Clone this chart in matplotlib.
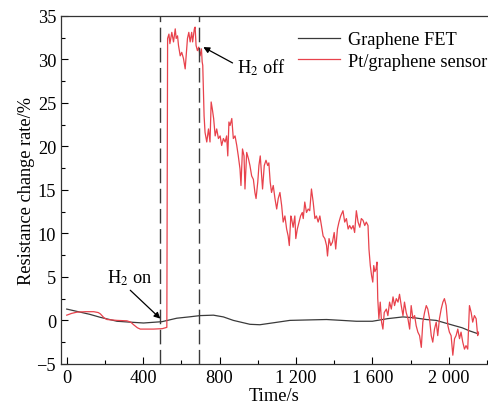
import matplotlib
matplotlib.use("Agg")
import matplotlib.pyplot as plt
from matplotlib.ticker import MultipleLocator, FixedLocator

plt.rcParams['font.family'] = ['Liberation Serif', 'DejaVu Serif']
plt.rcParams['mathtext.fontset'] = 'stix'

# Graphene FET (smooth baseline)
fet_t = [0, 60, 120, 176, 263, 330, 402, 498, 576, 640, 698, 768, 820, 872,
         959, 1011, 1090, 1168, 1260, 1360, 1440, 1516, 1600, 1680, 1760,
         1820, 1882, 1934, 2021, 2070, 2108, 2155]
fet_v = [1.3, 1.0, 0.7, 0.35, -0.1, -0.2, -0.3, -0.15, 0.25, 0.4, 0.55, 0.6,
         0.4, 0.0, -0.45, -0.5, -0.25, 0.0, 0.05, 0.1, 0.0, -0.1, -0.1, 0.2,
         0.4, 0.3, 0.1, 0.0, -0.55, -0.85, -1.2, -1.55]

# Pt/graphene sensor
pt_t = [0, 25, 54, 100, 141, 165, 176, 195, 211, 263, 315, 335, 350, 370,
        385, 454, 500, 524,
        # H2 on plateau
        528, 535, 540, 550, 559, 568, 573, 580, 585, 594, 602, 611, 620, 625,
        632, 639, 646, 654, 659, 668, 672, 677, 684, 691, 698, 705, 709, 712,
        # recovery
        719, 724, 733, 742, 750, 756, 762, 769, 777, 785, 794, 803, 811, 820,
        829, 837, 843, 849, 855, 864, 872, 881, 890, 898, 907, 912, 920, 928,
        933, 942, 951, 959, 968, 977, 985, 991, 1000, 1006, 1013, 1020, 1025,
        1034, 1043, 1052, 1058, 1065, 1072, 1081, 1090, 1099, 1107, 1116, 1125,
        1133, 1142, 1151, 1159, 1165, 1173, 1177, 1185, 1194, 1199, 1207, 1216,
        1224, 1233, 1238, 1246, 1255, 1264, 1272, 1281, 1290, 1299, 1307, 1316,
        1325, 1333, 1342, 1351, 1360, 1365, 1373, 1382, 1391, 1400, 1408, 1417,
        1425, 1434, 1446, 1455, 1464, 1473, 1481, 1490, 1499, 1507, 1516, 1525,
        1534, 1542, 1551, 1560, 1568, 1577, 1582, 1589, 1596, 1602, 1607, 1613,
        1619, 1624, 1628, 1634,
        # back to baseline
        1641, 1648, 1655, 1662, 1673,
        1681, 1690, 1699, 1708, 1716, 1725, 1734, 1742, 1751, 1760, 1768, 1777,
        1786, 1795, 1803, 1812, 1821, 1829, 1838, 1847, 1856, 1864, 1873, 1882,
        1890, 1899, 1908, 1916, 1925, 1934, 1942, 1951, 1960, 1969, 1977, 1986,
        1995, 2003, 2012, 2021, 2030, 2038, 2047, 2056, 2064, 2073, 2082, 2090,
        2099, 2108, 2117, 2125, 2134, 2143, 2151, 2155]
pt_v = [0.6, 0.8, 0.95, 1.0, 1.0, 0.9, 0.75, 0.3, 0.1, 0.0, -0.05, -0.2, -0.5,
        -0.85, -1.0, -1.0, -0.95, -0.8,
        32.4, 32.9, 31.8, 33.1, 32.0, 33.5, 32.4, 32.7, 31.6, 30.4, 30.8, 30.1,
        28.9, 30.4, 32.4, 33.1, 32.0, 33.1, 32.0, 33.5, 33.7, 31.6, 31.0, 31.4,
        30.4, 31.2, 29.7, 29.3,
        23.5, 21.6, 20.5, 22.0, 20.5, 25.1, 24.3, 23.2, 21.2, 22.0, 20.9, 21.2,
        20.1, 20.9, 20.5, 21.2, 18.9, 22.8, 22.4, 23.2, 20.9, 21.2, 20.1, 18.9,
        17.4, 15.5, 19.7, 18.9, 15.1, 19.3, 18.6, 17.8, 16.6, 16.2, 14.7, 14.0,
        15.9, 17.8, 18.9, 16.6, 15.1, 17.8, 18.4, 17.8, 18.1, 15.9, 14.7, 15.5,
        14.0, 12.8, 14.0, 14.7, 13.2, 11.3, 12.0, 10.5, 9.7, 8.6, 12.0, 11.7,
        10.7, 12.0, 9.4, 10.5, 11.3, 12.0, 12.4, 11.7, 13.6, 12.4, 12.8, 12.6,
        15.1, 13.6, 11.7, 12.0, 11.3, 12.0, 10.9, 9.7, 9.4, 8.6, 7.4, 9.4, 8.6,
        9.0, 10.1, 8.2, 10.5, 11.3, 12.0, 12.6, 11.3, 11.7, 10.5, 10.9, 10.5,
        10.9, 10.1, 12.6, 11.3, 10.7, 11.7, 11.5, 10.9, 11.3, 10.9, 8.2, 6.3,
        5.1, 4.4, 6.3, 5.6, 5.9, 6.7, 2.5, 0.2,
        2.1, -0.2, -1.0, 0.9, 1.3,
        0.55, 2.1, 1.3, 2.7, 1.7, 2.5, 2.1, 3.0, 1.7, 0.55, 2.1, 0.9,
        0.2, -1.0, 1.7, 0.2, 0.55, -0.6, -1.35, -1.75, -3.1, -0.2, 0.9, 1.7,
        1.3, 0.2, -1.75, -2.5, -1.0, -0.2, -1.75, 0.2, 1.3, 2.1, 2.5, 1.7,
        -0.6, -1.35, -1.75, -4.0, -2.1, -1.75, -1.0, -2.1, -1.35, -2.5, -3.3,
        -2.9, -3.3, 1.7, 0.9, -0.2, 0.55, 0.2, -1.75, -1.35]

h2_on = 490
h2_off = 690
x_ticks = [0, 400, 800, 1200, 1600, 2000]
x_tick_labels = ['0', '400', '800', '1 200', '1 600', '2 000']

fs = 13.2

fig = plt.figure(figsize=(4.88, 4.10), dpi=100)
ax = fig.add_axes([0.125, 0.110, 0.873, 0.849])

ax.plot(fet_t, fet_v, color='#3a3a3a', lw=0.9, label='Graphene FET')
ax.plot(pt_t, pt_v, color='#e8424c', lw=0.9, label='Pt/graphene sensor')

for xv in (h2_on, h2_off):
    ax.axvline(xv, color='#3a3a3a', lw=1.0, ls=(0, (10.5, 4)))

ax.annotate('H$_2$ on', xy=(h2_on, 0.2), xytext=(210, 4.9),
            fontsize=fs, ha='left', va='center',
            arrowprops=dict(arrowstyle='-|>', color='black', lw=0.9,
                            shrinkA=0, shrinkB=0, mutation_scale=9,
                            relpos=(0.45, 0.0)))
ax.annotate('H$_2$ off', xy=(715, 31.4), xytext=(889, 29.1),
            fontsize=fs, ha='left', va='center',
            arrowprops=dict(arrowstyle='-|>', color='black', lw=0.9,
                            shrinkA=1, shrinkB=0, mutation_scale=9,
                            relpos=(0.0, 0.6)))

ax.set_xlim(-30, 2200)
ax.set_ylim(-5, 35)
ax.xaxis.set_major_locator(FixedLocator(x_ticks))
ax.set_xticklabels(x_tick_labels)
ax.xaxis.set_minor_locator(MultipleLocator(200))
ax.yaxis.set_major_locator(MultipleLocator(5))
ax.yaxis.set_minor_locator(MultipleLocator(2.5))
ax.tick_params(which='both', direction='in', labelsize=fs, top=False, right=False)
ax.tick_params(which='major', length=5, width=0.8)
ax.tick_params(which='minor', length=3, width=0.8)
ax.spines['right'].set_visible(False)
for s in ('left', 'bottom', 'top'):
    ax.spines[s].set_color('#333333')
    ax.spines[s].set_linewidth(0.9)

ax.set_xlabel('Time/s', fontsize=fs, labelpad=1)
ax.set_ylabel('Resistance change rate/%', fontsize=fs, labelpad=1)

ax.legend(loc='upper left', bbox_to_anchor=(298 / 488, 1 - 32 / 410),
          bbox_transform=fig.transFigure, frameon=False, fontsize=fs,
          handlelength=2.3, handletextpad=0.4, labelspacing=0.25,
          borderpad=0, borderaxespad=0)

fig.savefig('out.png', dpi=100)
